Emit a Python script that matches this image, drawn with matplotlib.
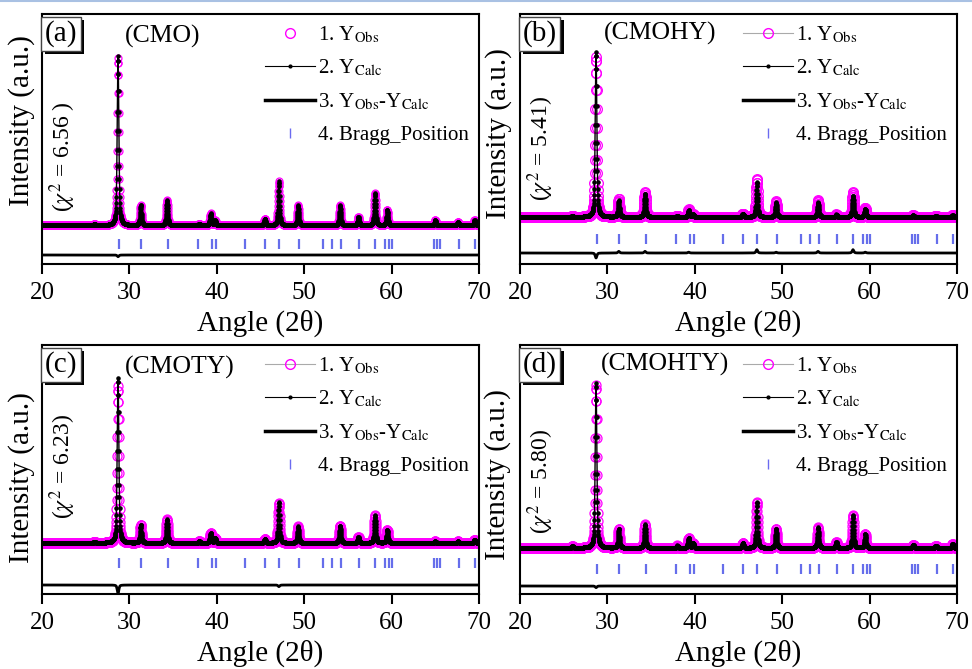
import numpy as np
import matplotlib
matplotlib.use('Agg')
import matplotlib.pyplot as plt
from matplotlib.lines import Line2D
from matplotlib import patheffects

plt.rcParams['font.family'] = ['Liberation Serif', 'DejaVu Serif']
plt.rcParams['mathtext.fontset'] = 'stix'

# Rietveld fits, 2theta 20-70 deg; peak heights (strongest = 100)
peak_pos = [26.0, 28.7, 31.3, 34.3, 38.0, 39.3, 39.8, 45.5, 47.1, 49.3,
            54.1, 56.2, 58.1, 59.5, 65.0, 67.6, 69.5]

cmo_obs    = [1.0, 99, 12, 15, 1.0, 7, 3, 4, 26, 12, 12, 5, 19, 9, 3, 2, 3]
cmo_calc   = [1.0, 100, 12, 15, 1.0, 7, 3, 4, 26, 12, 12, 5, 19, 9, 3, 2, 3]
cmohy_obs  = [0.5, 97, 11, 15, 0.5, 4.5, 1.5, 2, 23, 9.5, 10, 1.5, 15, 5.5, 1, 0.5, 1]
cmohy_calc = [0.5, 100, 10, 14, 0.5, 4, 1.5, 2, 21, 9, 9, 1.5, 13, 5, 1, 0.5, 1]
cmoty_obs  = [0.8, 95, 11, 14.5, 1, 6, 3, 2.5, 24, 10, 10.5, 3.5, 17, 8, 1, 1, 2]
cmoty_calc = [0.8, 100, 11, 14.5, 1, 6, 3, 2.5, 25, 10, 10.5, 3.5, 17, 8, 1, 1, 2]
cmohty_obs  = [1, 99, 11.5, 14.5, 1.5, 6, 3, 3, 28, 11.5, 12.5, 3.5, 20, 8.5, 2, 1.5, 2.5]
cmohty_calc = [1, 100, 11.5, 14.5, 1.5, 6, 3, 3, 28, 11.5, 12.5, 3.5, 20, 8.5, 2, 1.5, 2.5]

bragg_pos = [28.8, 31.3, 34.4, 37.9, 39.4, 39.9, 43.2, 45.5, 47.1, 49.4, 52.1,
             53.2, 54.2, 56.3, 58.1, 59.3, 59.7, 60.1, 64.8, 65.2, 65.5, 67.7, 69.5]

panel_tags = ['(a)', '(b)', '(c)', '(d)']
sample_names = ['(CMO)', '(CMOHY)', '(CMOTY)', '(CMOHTY)']
chi2_values = ['6.56 ', '5.41', '6.23', '5.80']
obs_sets = [cmo_obs, cmohy_obs, cmoty_obs, cmohty_obs]
calc_sets = [cmo_calc, cmohy_calc, cmoty_calc, cmohty_calc]

two_theta = np.arange(20, 70.0001, 0.02)


def profile(heights, fwhm=0.22, eta=0.5):
    y = np.zeros_like(two_theta)
    for p, h in zip(peak_pos, heights):
        d = (two_theta - p) / (fwhm / 2)
        y += h * (eta / (1 + d**2) + (1 - eta) * np.exp(-np.log(2) * d**2))
    return y


W, H = 972, 669
# axes boxes in pixels (left, top, right, bottom)
rects = [(42, 14, 479, 264), (520, 14, 957, 264), (42, 345, 479, 594), (520, 345, 957, 594)]
# pixels above bottom spine: baseline, strongest peak, bragg ticks, difference curve
levels = [(38.6, 207.6, 20, 9), (47, 212, 25, 11), (51, 216, 31, 9), (46, 211, 25, 8)]
obs_ms = [5, 7, 6.5, 6.5]
name_xy = [(0.275, 0.91), (0.32, 0.924), (0.316, 0.91), (0.332, 0.92)]
chi_xy = [(0.048, 0.43), (0.048, 0.46), (0.048, 0.51), (0.048, 0.45)]
ylab_xy = [(22, 121), (499, 134), (22, 478), (498, 475)]

fig = plt.figure(figsize=(W / 100, H / 100), dpi=100)

for i in range(4):
    l, t, r, b = rects[i]
    ax = fig.add_axes([l / W, 1 - b / H, (r - l) / W, (b - t) / H])
    b0, pk, bragg_px, diff_px = levels[i]
    k = (pk - b0) / 100.0
    obs = profile(obs_sets[i])
    calc = profile(calc_sets[i])

    ax.plot(two_theta, obs, ls='none', marker='o', ms=obs_ms[i], mfc='none',
            mec='#ff00ff', mew=0.9)
    ax.plot(two_theta, calc, color='k', lw=1, marker='.', ms=4.5)
    ax.plot(bragg_pos, [(bragg_px - b0) / k] * len(bragg_pos), ls='none', marker='|',
            ms=6.5, mew=1.6, color='#4b55e8', alpha=0.85)
    ax.plot(two_theta, obs - calc + (diff_px - b0) / k, color='k', lw=2)

    ax.set_xlim(20, 70)
    ax.set_ylim(-b0 / k, ((b - t) - b0) / k)
    ax.set_xticks(range(20, 71, 10))
    ax.set_yticks([])
    ax.tick_params(axis='x', direction='out', length=7, width=1.5, labelsize=18, pad=6)
    for s in ax.spines.values():
        s.set_linewidth(1.5)
    ax.set_xlabel('Angle (2θ)', fontsize=21, labelpad=4)
    fig.text(ylab_xy[i][0] / W, 1 - ylab_xy[i][1] / H, 'Intensity (a.u.)', fontsize=21,
             rotation=90, ha='center', va='center')

    tag = ax.text(0.006, 0.975, panel_tags[i], transform=ax.transAxes, fontsize=21,
                  ha='left', va='top',
                  bbox=dict(boxstyle='square,pad=0.12', fc='white', ec='#444444', lw=1))
    tag.get_bbox_patch().set_path_effects([
        patheffects.SimplePatchShadow(offset=(2.5, -2.5), shadow_rgbFace='k', alpha=1),
        patheffects.Normal()])
    ax.text(name_xy[i][0], name_xy[i][1], sample_names[i], transform=ax.transAxes,
            fontsize=18.5, ha='center', va='center')
    ax.text(chi_xy[i][0], chi_xy[i][1], r'($\chi^2$ = ' + chi2_values[i] + ')',
            transform=ax.transAxes, fontsize=17, rotation=90, ha='center', va='center')

    h_obs = Line2D([], [], ls='none' if i == 0 else '-', color='#aaaaaa', lw=0.8,
                   marker='o', ms=7, mfc='none', mec='#ff00ff', mew=1)
    h_calc = Line2D([], [], color='k', lw=0.8, marker='.', ms=4)
    h_diff = Line2D([], [], color='k', lw=2.5)
    h_bragg = Line2D([], [], ls='none', marker='|', ms=7, mew=1, color='#6b6bf0')
    ax.legend([h_obs, h_calc, h_diff, h_bragg],
              ['1. Y$_{\\rm Obs}$', '2. Y$_{\\rm Calc}$',
               '3. Y$_{\\rm Obs}$-Y$_{\\rm Calc}$', '4. Bragg_Position'],
              loc='upper right', bbox_to_anchor=(1.0, 1.0), frameon=False, fontsize=15,
              handlelength=2.4, handletextpad=0.15, labelspacing=0.62, borderaxespad=0.1)

fig.add_artist(Line2D([0, 1], [0.998, 0.998], transform=fig.transFigure,
                      color='#a9c1e3', lw=1.5))

fig.savefig('out.png', dpi=100)
